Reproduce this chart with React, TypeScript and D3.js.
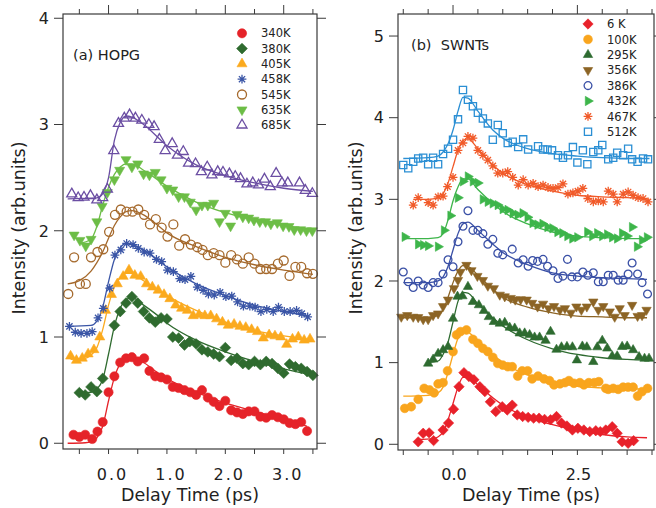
import React from 'react';
import * as d3 from 'd3';

type Pt = [number, number];

// ---------- panel (a) HOPG ----------
const hopgLabels = ['340K', '380K', '405K', '458K', '545K', '635K', '685K'];

const hopg340: Pt[] = [[-0.6,0.08],[-0.5,0.06],[-0.4,0.08],[-0.28,0.04],[-0.19,0.11],[-0.1,0.2],[0.0,0.48],[0.1,0.63],[0.2,0.76],[0.3,0.8],[0.4,0.81],[0.5,0.77],[0.61,0.8],[0.7,0.68],[0.8,0.63],[0.9,0.62],[1.0,0.6],[1.1,0.53],[1.2,0.52],[1.3,0.5],[1.4,0.48],[1.5,0.455],[1.6,0.5],[1.7,0.43],[1.8,0.39],[1.9,0.35],[2.0,0.4],[2.1,0.31],[2.2,0.29],[2.3,0.275],[2.4,0.3],[2.5,0.3],[2.6,0.25],[2.7,0.24],[2.8,0.265],[2.9,0.245],[3.0,0.225],[3.1,0.19],[3.2,0.18],[3.3,0.2],[3.4,0.115]];
const hopg340Fit: Pt[] = [[-0.7,0.0],[-0.4,0.005],[-0.3,0.015],[-0.2,0.05],[-0.1,0.16],[0,0.4],[0.1,0.62],[0.2,0.75],[0.3,0.8],[0.4,0.8],[0.6,0.76],[0.8,0.68],[1.0,0.61],[1.5,0.48],[2.0,0.38],[2.5,0.3],[3.0,0.22],[3.4,0.16]];

const hopg380: Pt[] = [[-0.5,0.476],[-0.4,0.455],[-0.3,0.53],[-0.2,0.486],[-0.1,0.61],[0.1,1.11],[0.2,1.24],[0.3,1.32],[0.4,1.38],[0.5,1.32],[0.6,1.24],[0.7,1.18],[0.8,1.14],[0.9,1.18],[1.0,1.17],[1.1,1.0],[1.2,0.99],[1.3,0.925],[1.39,0.956],[1.5,0.935],[1.6,0.88],[1.7,0.86],[1.8,0.84],[1.9,0.815],[2.0,0.9],[2.1,0.78],[2.2,0.8],[2.3,0.75],[2.4,0.74],[2.5,0.77],[2.6,0.74],[2.7,0.77],[2.8,0.75],[2.9,0.705],[3.0,0.66],[3.1,0.745],[3.2,0.72],[3.3,0.705],[3.4,0.675],[3.5,0.64]];
const hopg380Fit: Pt[] = [[-0.5,0.47],[-0.3,0.48],[-0.2,0.51],[-0.1,0.6],[0,0.84],[0.1,1.1],[0.2,1.27],[0.3,1.35],[0.4,1.37],[0.6,1.3],[0.8,1.22],[1.0,1.13],[1.5,0.97],[2.0,0.86],[2.5,0.77],[3.0,0.7],[3.5,0.64]];

const hopg405: Pt[] = [[-0.65,0.82],[-0.55,0.78],[-0.45,0.8],[-0.35,0.84],[-0.25,0.88],[-0.15,1.0],[-0.05,1.25],[0.05,1.4],[0.15,1.5],[0.25,1.57],[0.35,1.63],[0.45,1.58],[0.55,1.57],[0.65,1.5],[0.75,1.47],[0.85,1.44],[0.95,1.4],[1.05,1.36],[1.15,1.3],[1.25,1.27],[1.35,1.25],[1.45,1.2],[1.55,1.21],[1.65,1.2],[1.75,1.2],[1.85,1.17],[1.95,1.14],[2.05,1.11],[2.15,1.12],[2.25,1.1],[2.35,1.09],[2.45,1.07],[2.55,1.05],[2.65,0.99],[2.75,1.02],[2.85,1.01],[2.95,1.0],[3.05,0.93],[3.15,0.98],[3.25,1.0],[3.35,0.97],[3.45,0.98]];
const hopg405Fit: Pt[] = [[-0.65,0.79],[-0.4,0.8],[-0.3,0.83],[-0.2,0.9],[-0.1,1.07],[0,1.3],[0.1,1.47],[0.2,1.56],[0.3,1.6],[0.4,1.6],[0.6,1.53],[0.8,1.46],[1.0,1.39],[1.5,1.25],[2.0,1.14],[2.5,1.06],[3.0,1.01],[3.5,0.97]];

const hopg458: Pt[] = [[-0.67,1.1],[-0.57,1.045],[-0.47,1.035],[-0.37,1.035],[-0.28,1.05],[-0.18,1.18],[-0.09,1.27],[0.02,1.46],[0.11,1.77],[0.21,1.82],[0.31,1.88],[0.42,1.87],[0.51,1.835],[0.61,1.8],[0.71,1.79],[0.82,1.73],[0.91,1.71],[1.01,1.63],[1.11,1.615],[1.22,1.55],[1.31,1.54],[1.41,1.57],[1.52,1.47],[1.62,1.44],[1.71,1.405],[1.81,1.395],[1.91,1.42],[2.01,1.38],[2.11,1.385],[2.21,1.33],[2.31,1.29],[2.42,1.29],[2.51,1.28],[2.61,1.24],[2.71,1.26],[2.82,1.24],[2.91,1.28],[3.01,1.24],[3.11,1.24],[3.22,1.25],[3.31,1.22],[3.41,1.19]];
const hopg458Fit: Pt[] = [[-0.7,1.1],[-0.3,1.11],[-0.2,1.15],[-0.1,1.28],[0,1.52],[0.1,1.73],[0.2,1.84],[0.3,1.88],[0.4,1.87],[0.6,1.82],[0.8,1.74],[1.0,1.66],[1.5,1.5],[2.0,1.39],[2.5,1.3],[3.0,1.24],[3.4,1.2]];

const hopg545: Pt[] = [[-0.69,1.405],[-0.59,1.75],[-0.49,1.5],[-0.39,1.5],[-0.3,1.75],[-0.19,1.8],[-0.09,1.826],[0.01,1.99],[0.11,2.15],[0.21,2.2],[0.31,2.18],[0.41,2.18],[0.51,2.2],[0.61,2.15],[0.71,2.06],[0.81,2.11],[0.91,2.03],[1.01,1.945],[1.11,2.06],[1.21,1.86],[1.31,1.92],[1.41,1.87],[1.52,1.845],[1.61,1.82],[1.7,1.77],[1.8,1.79],[1.9,1.77],[2.0,1.7],[2.1,1.77],[2.2,1.73],[2.3,1.69],[2.4,1.75],[2.5,1.69],[2.6,1.64],[2.7,1.64],[2.8,1.64],[2.9,1.69],[3.0,1.72],[3.1,1.575],[3.2,1.66],[3.3,1.66],[3.4,1.6],[3.5,1.595]];
const hopg545Fit: Pt[] = [[-0.7,1.5],[-0.5,1.53],[-0.3,1.62],[-0.2,1.7],[-0.1,1.8],[0,1.93],[0.1,2.05],[0.2,2.13],[0.3,2.18],[0.4,2.19],[0.6,2.15],[0.8,2.07],[1.0,1.98],[1.5,1.85],[2.0,1.75],[2.5,1.68],[3.0,1.63],[3.5,1.59]];

const hopg635: Pt[] = [[-0.59,1.96],[-0.49,1.91],[-0.39,1.857],[-0.3,1.92],[-0.2,2.085],[-0.11,2.23],[-0.02,2.36],[0.1,2.48],[0.19,2.57],[0.3,2.67],[0.4,2.6],[0.5,2.63],[0.6,2.535],[0.7,2.525],[0.8,2.55],[0.9,2.48],[1.0,2.4],[1.1,2.385],[1.2,2.32],[1.3,2.32],[1.4,2.27],[1.5,2.195],[1.6,2.24],[1.7,2.24],[1.8,2.26],[1.9,2.085],[2.0,2.165],[2.09,2.045],[2.2,2.155],[2.3,2.13],[2.4,2.12],[2.49,2.1],[2.59,2.085],[2.69,2.085],[2.78,2.064],[2.89,2.076],[2.99,2.045],[3.09,2.04],[3.18,2.01],[3.29,2.01],[3.39,2.0],[3.49,2.0]];
const hopg635Fit: Pt[] = [[-0.5,1.88],[-0.3,1.92],[-0.2,2.04],[-0.1,2.24],[0,2.41],[0.1,2.53],[0.2,2.6],[0.3,2.63],[0.4,2.63],[0.6,2.57],[1.0,2.42],[1.5,2.27],[2.0,2.17],[2.5,2.1],[3.0,2.05],[3.5,2.01]];

const hopg685: Pt[] = [[-0.63,2.346],[-0.52,2.31],[-0.42,2.315],[-0.31,2.33],[-0.2,2.29],[-0.1,2.31],[-0.02,2.39],[0.09,2.754],[0.17,3.01],[0.27,3.06],[0.36,3.09],[0.46,3.06],[0.57,3.04],[0.69,3.0],[0.78,2.98],[0.87,2.86],[0.97,2.754],[1.09,2.82],[1.18,2.71],[1.28,2.745],[1.37,2.635],[1.49,2.63],[1.59,2.556],[1.69,2.6],[1.77,2.525],[1.87,2.556],[1.96,2.55],[2.07,2.535],[2.17,2.51],[2.26,2.49],[2.37,2.44],[2.47,2.45],[2.57,2.43],[2.67,2.485],[2.77,2.415],[2.87,2.54],[2.97,2.45],[3.07,2.45],[3.27,2.45],[3.37,2.38],[3.49,2.35]];
const hopg685Fit: Pt[] = [[-0.7,2.3],[-0.2,2.31],[-0.1,2.35],[0,2.5],[0.1,2.85],[0.2,3.02],[0.3,3.08],[0.4,3.07],[0.6,3.0],[1.0,2.8],[1.5,2.62],[2.0,2.52],[2.5,2.45],[3.0,2.4],[3.5,2.37]];

// ---------- panel (b) SWNTs ----------
const swntLabels = ['6 K', '100K', '295K', '356K', '386K', '432K', '467K', '512K'];

const swnt6: Pt[] = [[-0.7,0.03],[-0.6,0.135],[-0.48,0.14],[-0.39,0.045],[-0.2,0.175],[-0.09,0.26],[0.01,0.43],[0.12,0.705],[0.22,0.877],[0.32,0.83],[0.42,0.79],[0.54,0.705],[0.64,0.645],[0.75,0.52],[0.86,0.4],[0.99,0.46],[1.09,0.42],[1.19,0.48],[1.29,0.36],[1.4,0.34],[1.51,0.33],[1.62,0.32],[1.73,0.32],[1.84,0.305],[1.96,0.3],[2.08,0.34],[2.18,0.26],[2.29,0.224],[2.4,0.175],[2.51,0.196],[2.63,0.175],[2.75,0.155],[2.87,0.166],[2.96,0.155],[3.07,0.175],[3.2,0.215],[3.3,0.135],[3.4,0.03],[3.52,0.012],[3.63,0.044]];
const swnt6Fit: Pt[] = [[-0.7,0.06],[-0.4,0.07],[-0.2,0.15],[-0.1,0.3],[0,0.5],[0.1,0.7],[0.2,0.82],[0.3,0.82],[0.5,0.73],[0.8,0.57],[1.0,0.48],[1.5,0.33],[2.0,0.24],[2.5,0.17],[3.0,0.12],[3.5,0.09],[3.9,0.08]];

const swnt100: Pt[] = [[-0.97,0.44],[-0.84,0.46],[-0.7,0.55],[-0.58,0.685],[-0.47,0.665],[-0.38,0.63],[-0.3,0.74],[-0.2,0.755],[-0.11,0.9],[0.0,1.135],[0.07,1.34],[0.15,1.38],[0.27,1.4],[0.4,1.285],[0.5,1.237],[0.6,1.175],[0.7,1.135],[0.8,1.065],[0.9,0.99],[1.0,0.97],[1.1,0.95],[1.19,0.95],[1.3,0.836],[1.39,0.9],[1.5,0.9],[1.59,0.8],[1.71,0.836],[1.83,0.8],[1.94,0.78],[2.03,0.727],[2.15,0.74],[2.25,0.755],[2.33,0.78],[2.43,0.747],[2.55,0.755],[2.63,0.727],[2.73,0.755],[2.84,0.755],[2.93,0.767],[3.07,0.685],[3.12,0.673],[3.22,0.685],[3.32,0.673],[3.42,0.7],[3.52,0.7],[3.62,0.7],[3.71,0.59],[3.8,0.645],[3.91,0.685]];
const swnt100Fit: Pt[] = [[-1.0,0.59],[-0.5,0.6],[-0.3,0.63],[-0.2,0.7],[-0.1,0.88],[0,1.1],[0.1,1.3],[0.2,1.38],[0.3,1.37],[0.5,1.27],[0.8,1.1],[1.0,1.0],[1.5,0.85],[2.0,0.76],[2.5,0.71],[3.0,0.69],[3.5,0.68],[3.9,0.675]];

const swnt295: Pt[] = [[-0.5,0.99],[-0.4,1.04],[-0.3,1.11],[-0.2,1.155],[-0.1,1.195],[0.0,1.54],[0.09,1.81],[0.19,1.815],[0.3,1.93],[0.4,1.746],[0.52,1.705],[0.62,1.636],[0.72,1.56],[0.82,1.5],[0.94,1.48],[1.04,1.49],[1.14,1.43],[1.24,1.42],[1.34,1.36],[1.44,1.36],[1.54,1.34],[1.64,1.31],[1.74,1.31],[1.86,1.27],[1.96,1.38],[2.08,1.16],[2.18,1.19],[2.29,1.195],[2.4,1.19],[2.49,1.03],[2.6,1.2],[2.69,1.19],[2.82,1.01],[2.9,1.19],[3.0,1.27],[3.1,1.175],[3.2,1.08],[3.3,1.08],[3.4,1.195],[3.5,1.2],[3.62,1.155],[3.74,1.07],[3.85,1.05],[3.94,1.05]];
const swnt295Fit: Pt[] = [[-0.5,1.0],[-0.3,1.02],[-0.2,1.1],[-0.1,1.25],[0,1.5],[0.1,1.75],[0.2,1.86],[0.3,1.85],[0.5,1.72],[0.8,1.55],[1.0,1.45],[1.5,1.28],[2.0,1.17],[2.5,1.1],[3.0,1.06],[3.5,1.04],[3.95,1.03]];

const swnt356: Pt[] = [[-1.04,1.56],[-0.92,1.58],[-0.8,1.56],[-0.7,1.555],[-0.6,1.53],[-0.5,1.53],[-0.4,1.58],[-0.3,1.6],[-0.2,1.69],[-0.1,1.77],[0.02,1.91],[0.1,2.01],[0.15,2.11],[0.27,2.195],[0.37,2.13],[0.49,2.06],[0.6,2.01],[0.7,1.94],[0.82,1.91],[0.94,1.83],[1.04,1.81],[1.16,1.79],[1.25,1.77],[1.36,1.775],[1.48,1.77],[1.59,1.73],[1.7,1.685],[1.81,1.72],[1.92,1.665],[2.03,1.69],[2.15,1.645],[2.25,1.665],[2.37,1.61],[2.48,1.685],[2.58,1.645],[2.69,1.685],[2.82,1.746],[2.92,1.645],[3.02,1.69],[3.15,1.625],[3.25,1.56],[3.35,1.665],[3.45,1.58],[3.6,1.705],[3.71,1.57],[3.8,1.58],[3.89,1.645]];
const swnt356Fit: Pt[] = [[-1.05,1.55],[-0.5,1.55],[-0.3,1.58],[-0.2,1.65],[-0.1,1.8],[0,1.98],[0.1,2.12],[0.2,2.19],[0.3,2.18],[0.5,2.07],[0.8,1.9],[1.0,1.8],[1.5,1.68],[2.0,1.61],[2.5,1.57],[3.0,1.56],[3.5,1.55],[3.9,1.55]];

const swnt386: Pt[] = [[-1.0,2.11],[-0.9,1.99],[-0.8,1.92],[-0.7,2.0],[-0.6,1.95],[-0.5,1.92],[-0.4,1.98],[-0.3,1.98],[-0.2,2.085],[-0.1,2.26],[0.0,2.175],[0.1,2.48],[0.2,2.67],[0.3,2.86],[0.4,2.62],[0.5,2.62],[0.6,2.58],[0.7,2.45],[0.8,2.51],[0.9,2.34],[1.0,2.32],[1.19,2.39],[1.31,2.22],[1.41,2.26],[1.51,2.18],[1.6,2.25],[1.7,2.24],[1.81,2.265],[1.9,2.18],[2.01,2.125],[2.11,2.03],[2.21,2.06],[2.3,2.265],[2.39,2.05],[2.5,2.05],[2.61,2.11],[2.71,2.07],[2.82,2.1],[2.92,1.99],[3.02,1.99],[3.12,2.07],[3.22,2.07],[3.32,2.01],[3.42,2.01],[3.52,2.085],[3.6,2.22],[3.71,2.085],[3.8,1.98],[3.91,1.84]];
const swnt386Fit: Pt[] = [[-1.0,1.98],[-0.5,1.98],[-0.3,2.0],[-0.2,2.05],[-0.1,2.18],[0,2.38],[0.1,2.58],[0.2,2.7],[0.3,2.72],[0.5,2.62],[0.8,2.45],[1.0,2.35],[1.5,2.2],[2.0,2.1],[2.5,2.06],[3.0,2.04],[3.5,2.03],[3.9,2.02]];

const swnt432: Pt[] = [[-0.97,2.54],[-0.7,2.45],[-0.6,2.44],[-0.5,2.43],[-0.3,2.42],[-0.18,2.62],[-0.05,2.8],[0.1,3.02],[0.2,3.22],[0.3,3.28],[0.4,3.22],[0.5,3.2],[0.6,3.0],[0.7,2.97],[0.8,2.95],[0.9,2.93],[1.0,2.88],[1.1,2.87],[1.2,2.83],[1.3,2.81],[1.4,2.83],[1.5,2.78],[1.6,2.71],[1.7,2.69],[1.8,2.7],[1.9,2.66],[2.0,2.645],[2.1,2.6],[2.2,2.585],[2.3,2.55],[2.4,2.52],[2.5,2.535],[2.7,2.6],[2.8,2.55],[2.9,2.585],[3.0,2.55],[3.1,2.57],[3.2,2.535],[3.3,2.52],[3.4,2.585],[3.5,2.55],[3.6,2.66],[3.7,2.42],[3.8,2.5],[3.9,2.535]];
const swnt432Fit: Pt[] = [[-1.0,2.52],[-0.5,2.52],[-0.3,2.53],[-0.2,2.58],[-0.1,2.75],[0,2.98],[0.1,3.15],[0.2,3.25],[0.3,3.25],[0.5,3.12],[0.8,2.95],[1.0,2.85],[1.5,2.7],[2.0,2.6],[2.5,2.55],[3.0,2.53],[3.5,2.52],[3.95,2.52]];

const swnt467: Pt[] = [[-0.8,2.93],[-0.7,3.02],[-0.5,2.96],[-0.4,2.93],[-0.3,3.03],[-0.2,3.04],[-0.11,3.155],[0.0,3.27],[0.1,3.6],[0.2,3.69],[0.3,3.77],[0.4,3.75],[0.5,3.6],[0.6,3.54],[0.7,3.48],[0.8,3.41],[0.9,3.32],[1.0,3.32],[1.1,3.34],[1.2,3.27],[1.31,3.175],[1.41,3.24],[1.51,3.175],[1.61,3.195],[1.71,3.155],[1.81,3.175],[1.91,3.145],[2.01,3.135],[2.11,3.145],[2.21,3.19],[2.31,3.065],[2.41,3.08],[2.51,3.1],[2.61,3.135],[2.71,3.01],[2.82,2.97],[2.92,2.98],[3.02,2.97],[3.12,3.1],[3.22,3.065],[3.3,2.97],[3.42,3.065],[3.52,3.09],[3.62,3.05],[3.72,3.02],[3.82,3.01],[3.92,2.97]];
const swnt467Fit: Pt[] = [[-0.8,3.0],[-0.5,3.0],[-0.3,3.02],[-0.2,3.07],[-0.1,3.2],[0,3.4],[0.1,3.6],[0.2,3.72],[0.3,3.74],[0.5,3.62],[0.8,3.42],[1.0,3.32],[1.5,3.18],[2.0,3.1],[2.5,3.05],[3.0,3.03],[3.5,3.02],[3.95,3.0]];

const swnt512: Pt[] = [[-1.0,3.42],[-0.9,3.38],[-0.8,3.46],[-0.7,3.5],[-0.6,3.51],[-0.5,3.43],[-0.4,3.51],[-0.3,3.43],[-0.2,3.555],[-0.1,3.62],[0.0,3.73],[0.1,3.98],[0.2,4.34],[0.3,4.22],[0.4,4.14],[0.5,4.06],[0.6,3.99],[0.7,3.93],[0.8,3.73],[0.9,3.91],[1.0,3.81],[1.1,3.69],[1.2,3.705],[1.31,3.64],[1.41,3.735],[1.51,3.61],[1.71,3.65],[1.81,3.61],[1.9,3.61],[1.99,3.6],[2.11,3.54],[2.21,3.51],[2.31,3.54],[2.41,3.64],[2.5,3.45],[2.61,3.6],[2.7,3.43],[2.82,3.58],[2.92,3.6],[3.0,3.665],[3.12,3.49],[3.22,3.51],[3.3,3.57],[3.42,3.54],[3.52,3.62],[3.6,3.49],[3.71,3.46],[3.82,3.5],[3.92,3.49]];
const swnt512Fit: Pt[] = [[-1.0,3.5],[-0.5,3.51],[-0.3,3.53],[-0.2,3.58],[-0.1,3.68],[0,3.85],[0.1,4.08],[0.2,4.25],[0.3,4.24],[0.5,4.08],[0.8,3.85],[1.0,3.75],[1.5,3.62],[2.0,3.56],[2.5,3.53],[3.0,3.51],[3.5,3.5],[3.95,3.5]];

// ---------- axes ----------
const hopgXTicks = [0, 1, 2, 3];
const hopgXMinor = [-0.5, 0.5, 1.5, 2.5, 3.5];
const hopgYTicks = [0, 1, 2, 3, 4];
const swntXTicks = [0, 2.5];
const swntXMinor = [-1, -0.5, 0.5, 1, 1.5, 2, 3, 3.5, 4];
const swntYTicks = [0, 1, 2, 3, 4, 5];

type Shape = 'circle' | 'diamond' | 'triUp' | 'triDown' | 'triRight' | 'square' | 'star';

interface Series {
  label: string;
  color: string;
  shape: Shape;
  open?: boolean;
  r: number;
  pts: Pt[];
  fit: Pt[];
}

const hopgSeries: Series[] = [
  { label: hopgLabels[0], color: '#e52329', shape: 'circle', r: 4.6, pts: hopg340, fit: hopg340Fit },
  { label: hopgLabels[1], color: '#2f6b2f', shape: 'diamond', r: 5.4, pts: hopg380, fit: hopg380Fit },
  { label: hopgLabels[2], color: '#fbaa1e', shape: 'triUp', r: 5.8, pts: hopg405, fit: hopg405Fit },
  { label: hopgLabels[3], color: '#3a55a6', shape: 'star', r: 4.4, pts: hopg458, fit: hopg458Fit },
  { label: hopgLabels[4], color: '#a5692c', shape: 'circle', open: true, r: 4.5, pts: hopg545, fit: hopg545Fit },
  { label: hopgLabels[5], color: '#6cbd46', shape: 'triDown', r: 5.8, pts: hopg635, fit: hopg635Fit },
  { label: hopgLabels[6], color: '#6b4ea3', shape: 'triUp', open: true, r: 5.8, pts: hopg685, fit: hopg685Fit },
];

const swntSeries: Series[] = [
  { label: swntLabels[0], color: '#e8212a', shape: 'diamond', r: 5.2, pts: swnt6, fit: swnt6Fit },
  { label: swntLabels[1], color: '#f9a51d', shape: 'circle', r: 4.4, pts: swnt100, fit: swnt100Fit },
  { label: swntLabels[2], color: '#2e6b30', shape: 'triUp', r: 5.4, pts: swnt295, fit: swnt295Fit },
  { label: swntLabels[3], color: '#8c6425', shape: 'triDown', r: 5.4, pts: swnt356, fit: swnt356Fit },
  { label: swntLabels[4], color: '#3a50a6', shape: 'circle', open: true, r: 3.9, pts: swnt386, fit: swnt386Fit },
  { label: swntLabels[5], color: '#3db54a', shape: 'triRight', r: 5.4, pts: swnt432, fit: swnt432Fit },
  { label: swntLabels[6], color: '#f15a29', shape: 'star', r: 4.4, pts: swnt467, fit: swnt467Fit },
  { label: swntLabels[7], color: '#2b8fd4', shape: 'square', open: true, r: 3.6, pts: swnt512, fit: swnt512Fit },
];

const FONT = '"DejaVu Sans", Verdana, sans-serif';
const AXIS = '#3a3a3a';

function markerPath(shape: Shape, r: number): string {
  const s = 0.866 * r;
  switch (shape) {
    case 'circle':
      return `M${-r},0a${r},${r} 0 1,0 ${2 * r},0a${r},${r} 0 1,0 ${-2 * r},0Z`;
    case 'diamond':
      return `M0,${-r}L${r},0L0,${r}L${-r},0Z`;
    case 'triUp':
      return `M0,${-r}L${s},${r / 2}L${-s},${r / 2}Z`;
    case 'triDown':
      return `M0,${r}L${s},${-r / 2}L${-s},${-r / 2}Z`;
    case 'triRight':
      return `M${r},0L${-r / 2},${s}L${-r / 2},${-s}Z`;
    case 'square':
      return `M${-r},${-r}h${2 * r}v${2 * r}h${-2 * r}Z`;
    case 'star': {
      const d = r * 0.707;
      return `M0,${-r}V${r}M${-r},0H${r}M${-d},${-d}L${d},${d}M${-d},${d}L${d},${-d}`;
    }
  }
}

function Marker({ s, x, y }: { s: Series; x: number; y: number }) {
  const d = markerPath(s.shape, s.r);
  if (s.shape === 'star') {
    return <path d={d} transform={`translate(${x},${y})`} stroke={s.color} strokeWidth={1.3} fill="none" />;
  }
  return (
    <path
      d={d}
      transform={`translate(${x},${y})`}
      fill={s.open ? 'none' : s.color}
      stroke={s.color}
      strokeWidth={s.open ? 1.3 : 0.6}
    />
  );
}

interface PanelProps {
  id: string;
  left: number; right: number; top: number; bottom: number;
  xDomain: [number, number]; yDomain: [number, number];
  xTicks: number[]; xMinor: number[]; yTicks: number[];
  xLabelDx: number; xLabelSpacing: number;
  series: Series[];
  legendX: number; legendY: number; legendStep: number;
  title: string; titleX: number; titleY: number;
  xTitleX: number; yTitleX: number;
}

function Panel(p: PanelProps) {
  const x = d3.scaleLinear().domain(p.xDomain).range([p.left, p.right]);
  const y = d3.scaleLinear().domain(p.yDomain).range([p.bottom, p.top]);
  const line = d3.line<Pt>().x(d => x(d[0])).y(d => y(d[1])).curve(d3.curveMonotoneX);

  return (
    <g fontFamily={FONT}>
      <defs>
        <clipPath id={`clip-${p.id}`}>
          <rect x={p.left} y={p.top} width={p.right - p.left} height={p.bottom - p.top} />
        </clipPath>
      </defs>

      {/* fits */}
      <g clipPath={`url(#clip-${p.id})`}>
        {p.series.map(s => (
          <path key={s.label} d={line(s.fit) || ''} fill="none" stroke={s.color} strokeWidth={1.3} />
        ))}
      </g>

      {/* data */}
      {p.series.map(s => (
        <g key={s.label}>
          {s.pts.map((d, i) => <Marker key={i} s={s} x={x(d[0])} y={y(d[1])} />)}
        </g>
      ))}

      {/* frame */}
      <rect x={p.left} y={p.top} width={p.right - p.left} height={p.bottom - p.top} fill="none" stroke={AXIS} strokeWidth={1.2} />

      {/* x ticks */}
      {p.xTicks.map(t => (
        <g key={`xt${t}`}>
          <line x1={x(t)} x2={x(t)} y1={p.bottom} y2={p.bottom + 5} stroke={AXIS} />
          <line x1={x(t)} x2={x(t)} y1={p.top} y2={p.top - 9} stroke={AXIS} />
          <text x={x(t) + p.xLabelDx} y={480} textAnchor="middle" fontSize={16} fill="#222"
            letterSpacing={p.xLabelSpacing}>{d3.format('.1f')(t)}</text>
        </g>
      ))}
      {p.xMinor.map(t => (
        <g key={`xm${t}`}>
          <line x1={x(t)} x2={x(t)} y1={p.bottom} y2={p.bottom + 5} stroke={AXIS} />
          <line x1={x(t)} x2={x(t)} y1={p.top} y2={p.top - 5} stroke={AXIS} />
        </g>
      ))}

      {/* y ticks */}
      {p.yTicks.map(t => (
        <g key={`yt${t}`}>
          <line x1={p.left} x2={p.left - 9} y1={y(t)} y2={y(t)} stroke={AXIS} />
          <line x1={p.right} x2={p.right + 9} y1={y(t)} y2={y(t)} stroke={AXIS} />
          <text x={p.left - 14} y={y(t)} dy="0.36em" textAnchor="end" fontSize={16} fill="#222">{t}</text>
        </g>
      ))}

      {/* axis titles */}
      <text x={p.xTitleX} y={501} textAnchor="middle" fontSize={17.5} fill="#222">Delay Time (ps)</text>
      <text transform={`translate(${p.yTitleX},228) rotate(-90)`} textAnchor="middle" fontSize={17.5} fill="#222">
        Intensity (arb.units)
      </text>

      {/* panel label */}
      <text x={p.titleX} y={p.titleY} fontSize={14.5} fill="#222" style={{ whiteSpace: 'pre' }}>{p.title}</text>

      {/* legend */}
      {p.series.map((s, i) => {
        const ly = p.legendY + i * p.legendStep;
        return (
          <g key={`lg${s.label}`}>
            <Marker s={s} x={p.legendX} y={ly} />
            <text x={p.legendX + 19} y={ly} dy="0.36em" fontSize={11.5} fill="#222" style={{ whiteSpace: 'pre' }}>{s.label}</text>
          </g>
        );
      })}
    </g>
  );
}

export default function App() {
  return (
    <svg width={656} height={508} style={{ position: 'absolute', left: 0, top: 0, background: '#fff' }}>
      <rect width={656} height={508} fill="#fff" />
      <Panel
        id="a"
        left={63} right={317} top={14} bottom={449}
        xDomain={[-0.78, 3.57]} yDomain={[-0.054, 4.04]}
        xTicks={hopgXTicks} xMinor={hopgXMinor} yTicks={hopgYTicks}
        xLabelDx={4} xLabelSpacing={2}
        series={hopgSeries}
        legendX={242} legendY={33.3} legendStep={15.3}
        title="(a) HOPG" titleX={73} titleY={60}
        xTitleX={190} yTitleX={25}
      />
      <Panel
        id="b"
        left={398} right={654} top={14} bottom={450}
        xDomain={[-1.106, 4.04]} yDomain={[-0.07, 5.27]}
        xTicks={swntXTicks} xMinor={swntXMinor} yTicks={swntYTicks}
        xLabelDx={1} xLabelSpacing={0}
        series={swntSeries}
        legendX={588} legendY={24} legendStep={15.4}
        title="(b)  SWNTs" titleX={411} titleY={50}
        xTitleX={531} yTitleX={361.5}
      />
    </svg>
  );
}
